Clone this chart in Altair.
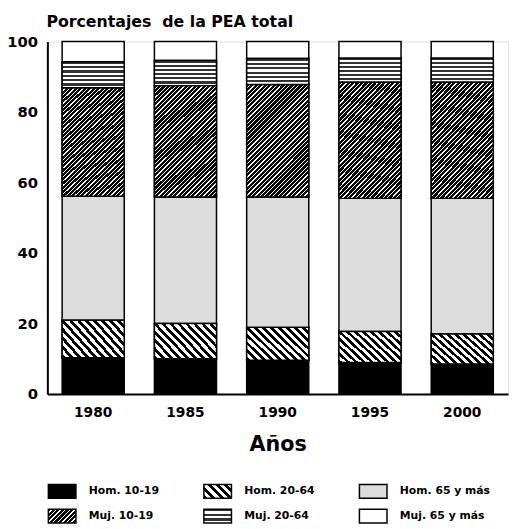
import json
import altair as alt
import pandas as pd

years = ["1980", "1985", "1990", "1995", "2000"]
groups = ["Hom. 10-19", "Hom. 20-64", "Hom. 65 y más",
          "Muj. 10-19", "Muj. 20-64", "Muj. 65 y más"]
hom_10_19 = [10.3, 10.0, 9.6, 8.9, 8.5]
hom_20_64 = [10.6, 10.0, 9.3, 8.8, 8.5]
hom_65 = [35.2, 35.9, 37.0, 37.8, 38.5]
muj_10_19 = [30.8, 31.6, 31.9, 33.0, 33.0]
muj_20_64 = [7.4, 7.1, 7.4, 6.8, 6.8]
muj_65 = [5.7, 5.4, 4.8, 4.7, 4.7]

series = [hom_10_19, hom_20_64, hom_65, muj_10_19, muj_20_64, muj_65]
rows = []
for gi, (g, vals) in enumerate(zip(groups, series)):
    for y, v in zip(years, vals):
        rows.append({"year": y, "group": g, "idx": gi, "value": v})
df = pd.DataFrame(rows)

FONT = "DejaVu Sans"


def stripes(n, dark_frac, x1, y1, x2, y2, dark="black", light="white"):
    stops = []
    for k in range(n):
        a = k / n
        m = (k + dark_frac) / n
        b = (k + 1) / n
        stops += [{"offset": round(a, 4), "color": dark},
                  {"offset": round(m, 4), "color": dark},
                  {"offset": round(m, 4), "color": light},
                  {"offset": round(b, 4), "color": light}]
    return {"gradient": "linear", "x1": x1, "y1": y1, "x2": x2, "y2": y2,
            "stops": stops}


def as_expr(g):
    return alt.ExprRef(expr=json.dumps(g))


# legend swatch textures (28 x 14 swatches)
sw_back = stripes(5, 0.48, 0, 1, 1.2, 0.4)
sw_fwd = stripes(9, 0.7, 0, 0, 1.2, 0.6)
sw_grid = stripes(3, 0.5, 0, 0, 0, 1, dark="#333333")
legend_range = ["#000000", as_expr(sw_back), "#dcdcdc",
                as_expr(sw_fwd), as_expr(sw_grid), "#ffffff"]

# bar textures
bar_back = stripes(12, 0.48, 0, 1, 1.193, 0.356)
bar_fwd = stripes(39, 0.7, 0, 0, 0.657, 1.189)
bar_grid = stripes(6, 0.5, 0, 0, 0, 1, dark="#333333")

base = alt.Chart(df).transform_stack(
    stack="value", groupby=["year"], as_=["y0", "y1"],
    sort=[alt.SortField("idx", order="ascending")]
)

xenc = alt.X("year:N", title="Años", sort=years,
             scale=alt.Scale(paddingInner=0.327, paddingOuter=0.16),
             axis=alt.Axis(labelAngle=0, labelFont=FONT, labelFontSize=14,
                           labelFontWeight="bold", labelColor="black",
                           labelPadding=12, ticks=False, domainColor="black",
                           domainWidth=2, titleFont=FONT, titleFontSize=21,
                           titleFontWeight="bold", titleColor="black",
                           titlePadding=14))
yenc = alt.Y("y0:Q", scale=alt.Scale(domain=[0, 100], nice=False),
             axis=alt.Axis(values=[0, 20, 40, 60, 80, 100], title=None,
                           grid=False, ticks=False, labelFont=FONT,
                           labelFontSize=15, labelFontWeight="bold",
                           labelColor="black", labelPadding=10,
                           domainColor="black", domainWidth=2))

bars = base.mark_bar(stroke="black", strokeWidth=1.5).encode(
    x=xenc, y=yenc, y2="y1:Q",
    color=alt.Color("group:N", sort=groups,
                    scale=alt.Scale(domain=groups, range=legend_range),
                    legend=alt.Legend(
                        title=None, orient="none", legendX=0, legendY=442,
                        columns=3, direction="horizontal",
                        symbolType="M-1,-0.5H1V0.5H-1Z", symbolSize=784,
                        symbolStrokeColor="black", symbolStrokeWidth=1.5,
                        symbolOpacity=1, labelFont=FONT, labelFontSize=11,
                        labelFontWeight="bold", labelColor="black",
                        labelOffset=12, columnPadding=22, rowPadding=-4,
                        gridAlign="all", padding=0, labelLimit=200)),
)


def overlay(group_name, grad):
    return base.transform_filter(alt.datum.group == group_name).mark_bar(
        stroke="black", strokeWidth=1.5, fill=grad
    ).encode(x=alt.X("year:N", sort=years), y="y0:Q", y2="y1:Q")


chart = alt.layer(
    bars,
    overlay("Hom. 20-64", bar_back),
    overlay("Muj. 10-19", bar_fwd),
    overlay("Muj. 20-64", bar_grid),
).properties(
    width=468, height=358,
    title=alt.Title("Porcentajes\u00a0 de la PEA total", anchor="start",
                    frame="group", font=FONT, fontSize=16,
                    fontWeight="bold", color="black", offset=5, dx=-1),
    autosize=alt.AutoSizeParams(type="none"),
    padding={"left": 40, "top": 30, "right": 4, "bottom": 128},
).configure_view(stroke="black", strokeWidth=1.5).configure(background="white")

chart.save("out.html", embed_options={"renderer": "svg", "actions": False})
